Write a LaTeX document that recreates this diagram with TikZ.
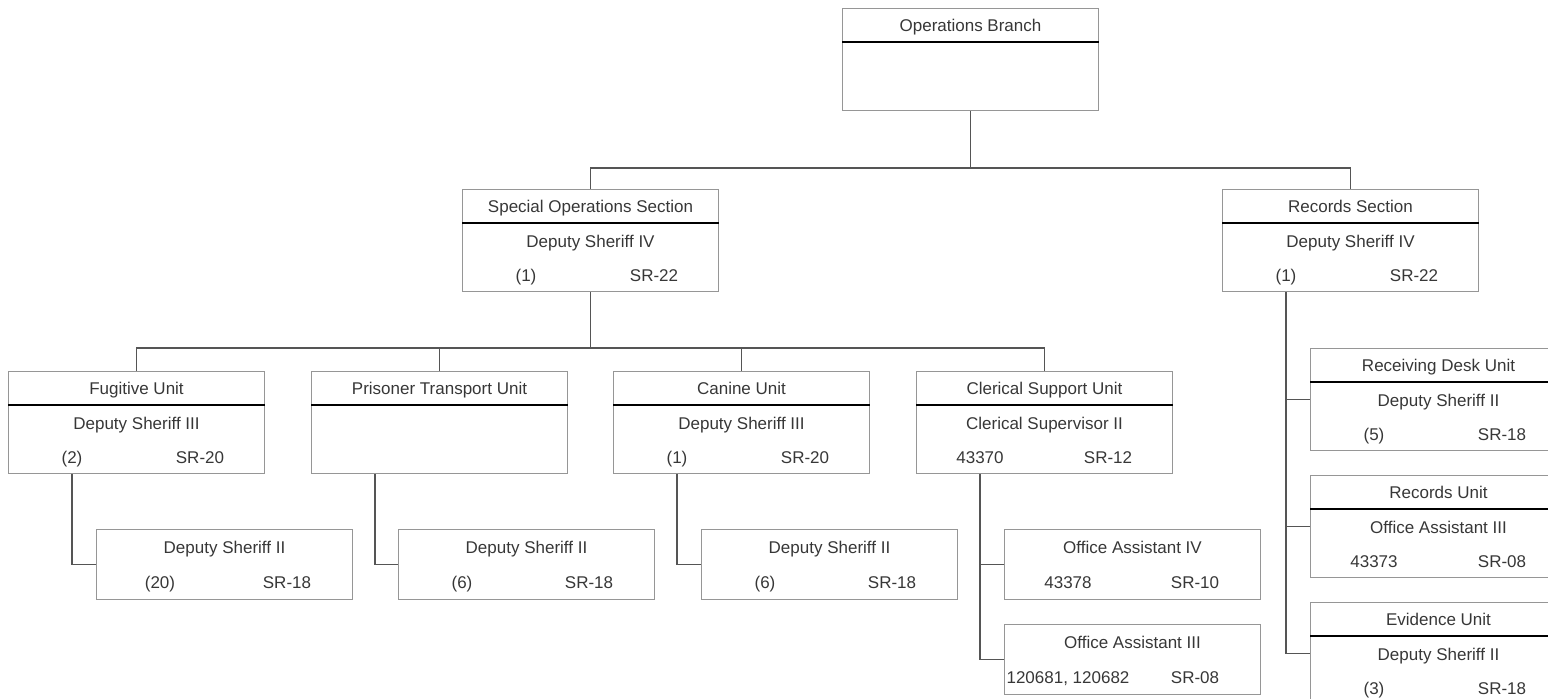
\documentclass[tikz,border=0pt]{standalone}
\usepackage{fontspec}
\setmainfont{Liberation Sans}
\usepackage{tikz}
\usetikzlibrary{positioning}
\usepackage{xcolor}

\definecolor{boxgray}{RGB}{150,150,150}
\definecolor{linegray}{RGB}{85,85,85}
\definecolor{txtgray}{RGB}{55,55,55}

\tikzset{
	orgbox/.style={draw=boxgray, line width=1pt, minimum width=256pt,
		minimum height=102pt, anchor=north west, inner sep=0pt},
	divline/.style={draw=black, line width=1.2pt},
	conn/.style={draw=linegray, line width=1.4pt},
	txt/.style={text=txtgray, inner sep=0pt, anchor=base, font=\fontsize{17pt}{20pt}\selectfont}
}

% box with a title row
\newcommand{\headbox}[4]{%
	\node[orgbox] (#1) at (#2,#3) {};
	\draw[divline] ([yshift=-34pt]#1.north west) -- ([yshift=-34pt]#1.north east);
	\node[txt] (#1-t) at ([yshift=-23pt]#1.north) {#4};
}
% title row, position and two numbers
\newcommand{\unitbox}[7]{%
	\headbox{#1}{#2}{#3}{#4}
	\node[txt] (#1-p) at ([yshift=-58pt]#1.north) {#5};
	\node[txt] (#1-l) at ([xshift=64pt,yshift=-92pt]#1.north west) {#6};
	\node[txt] (#1-r) at ([xshift=192pt,yshift=-92pt]#1.north west) {#7};
}
% position box without title
\newcommand{\posbox}[6]{%
	\node[orgbox, minimum height=70pt] (#1) at (#2,#3) {};
	\node[txt] (#1-p) at ([yshift=-24pt]#1.north) {#4};
	\node[txt] (#1-l) at ([xshift=64pt,yshift=-59pt]#1.north west) {#5};
	\node[txt] (#1-r) at ([xshift=191pt,yshift=-59pt]#1.north west) {#6};
}

\begin{document}
\begin{tikzpicture}[x=1pt, y=-1pt]
	\useasboundingbox (0,0) rectangle (1548,699);
	\clip (0,0) rectangle (1548,699);

	% branch and sections
	\headbox{ops}{842}{8}{Operations Branch}
	\unitbox{spec}{462}{189}{Special Operations Section}{Deputy Sheriff IV}{(1)}{SR-22}
	\unitbox{rec}{1222}{189}{Records Section}{Deputy Sheriff IV}{(1)}{SR-22}

	% units
	\unitbox{fug}{8}{371}{Fugitive Unit}{Deputy Sheriff III}{(2)}{SR-20}
	\headbox{pris}{311}{371}{Prisoner Transport Unit}
	\unitbox{can}{613}{371}{Canine Unit}{Deputy Sheriff III}{(1)}{SR-20}
	\unitbox{cler}{916}{371}{Clerical Support Unit}{Clerical Supervisor II}{43370}{SR-12}

	\unitbox{recv}{1310}{348}{Receiving Desk Unit}{Deputy Sheriff II}{(5)}{SR-18}
	\unitbox{recu}{1310}{475}{Records Unit}{Office Assistant III}{43373}{SR-08}
	\unitbox{evid}{1310}{602}{Evidence Unit}{Deputy Sheriff II}{(3)}{SR-18}

	% staff
	\posbox{fugc}{96}{529}{Deputy Sheriff II}{(20)}{SR-18}
	\posbox{prisc}{398}{529}{Deputy Sheriff II}{(6)}{SR-18}
	\posbox{canc}{701}{529}{Deputy Sheriff II}{(6)}{SR-18}
	\posbox{oaiv}{1004}{529}{Office Assistant IV}{43378}{SR-10}
	\posbox{oaiii}{1004}{624}{Office Assistant III}{120681, 120682}{SR-08}

	% connectors
	\draw[conn] (ops.south) -- ++(0,57) coordinate (opsbus);
	\draw[conn] (opsbus) -| (spec.north);
	\draw[conn] (opsbus) -| (rec.north);

	\draw[conn] (spec.south) -- ++(0,56) coordinate (specbus);
	\draw[conn] (specbus) -| (fug.north);
	\draw[conn] (specbus) -| (pris.north);
	\draw[conn] (specbus) -| (can.north);
	\draw[conn] (specbus) -| (cler.north);

	\coordinate (prisdrop) at ([xshift=64pt]pris.south west);
	\draw[conn] (fug.south -| fug-l) |- (fugc.west);
	\draw[conn] (prisdrop) |- (prisc.west);
	\draw[conn] (can.south -| can-l) |- (canc.west);
	\draw[conn] (cler.south -| cler-l) |- (oaiv.west);
	\draw[conn] (cler.south -| cler-l) |- (oaiii.west);

	\draw[conn] (rec.south -| rec-l) |- (recv.west);
	\draw[conn] (rec.south -| rec-l) |- (recu.west);
	\draw[conn] (rec.south -| rec-l) |- (evid.west);
\end{tikzpicture}
\end{document}
